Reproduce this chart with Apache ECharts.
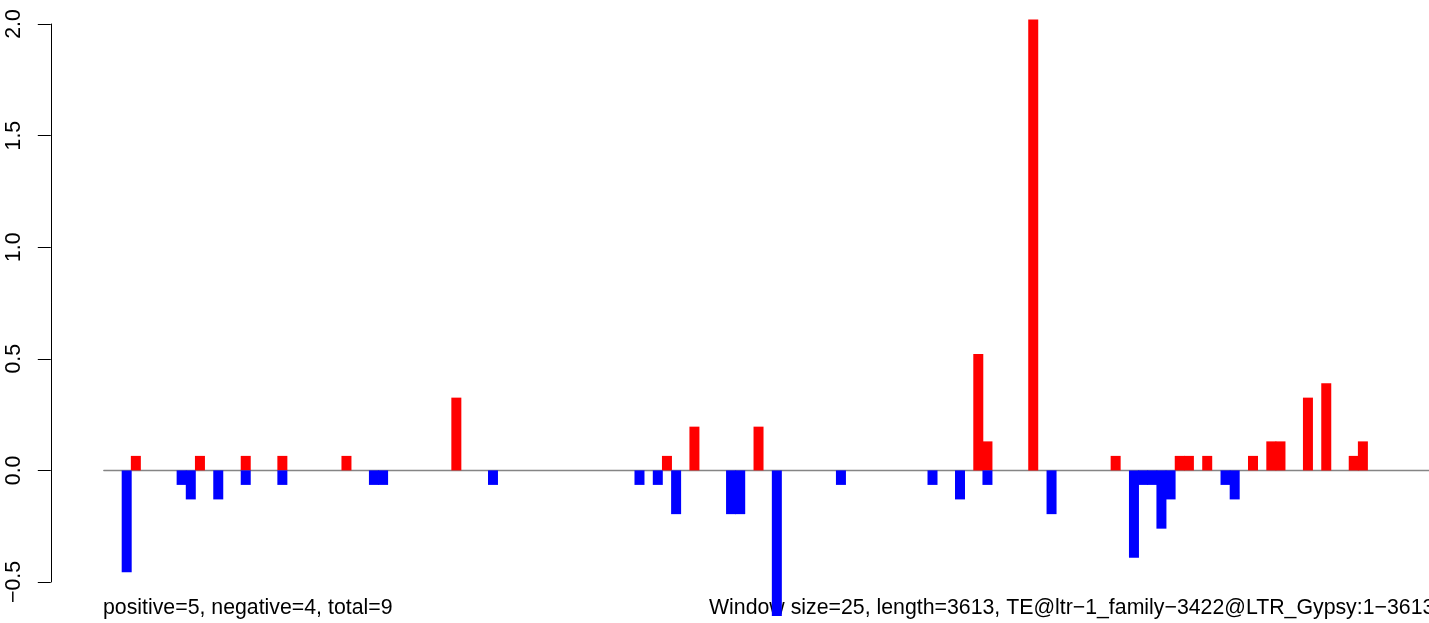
<!DOCTYPE html>
<html>
<head>
<meta charset="utf-8">
<script src="https://cdn.jsdelivr.net/npm/echarts@6/dist/echarts.min.js"></script>
<style>
html,body{margin:0;padding:0;background:#ffffff;}
#chart{width:1429px;height:623px;}
</style>
</head>
<body>
<div id="chart"></div>
<script>
// ---- data ----
const WINDOW_SIZE = 25;
const SEQ_LENGTH = 3613;
const yTicks = [-0.5, 0.0, 0.5, 1.0, 1.5, 2.0];

// window index (0-based, each window = WINDOW_SIZE bp) and value
const posWindows = [3, 10, 15, 19, 26, 38, 61, 64, 71, 95, 96, 101, 110, 117, 118, 120, 125, 127, 128, 131, 133, 136, 137];
const posValues  = [0.065, 0.065, 0.065, 0.065, 0.065, 0.326, 0.065, 0.196, 0.196, 0.522, 0.13, 2.02, 0.065, 0.065, 0.065, 0.065, 0.065, 0.13, 0.13, 0.326, 0.391, 0.065, 0.13];

const negWindows = [2, 8, 9, 12, 15, 19, 29, 30, 42, 58, 60, 62, 68, 69, 73, 80, 90, 93, 96, 103, 112, 113, 114, 115, 116, 122, 123];
const negValues  = [-0.456, -0.065, -0.13, -0.13, -0.065, -0.065, -0.065, -0.065, -0.065, -0.065, -0.065, -0.196, -0.196, -0.196, -0.652, -0.065, -0.065, -0.13, -0.065, -0.196, -0.391, -0.065, -0.065, -0.261, -0.13, -0.065, -0.13];

const leftNote  = 'positive=5, negative=4, total=9';
const rightNote = 'Window size=25, length=3613, TE@ltr\u22121_family\u22123422@LTR_Gypsy:1\u22123613';

// ---- build ----
const FONT = '"Liberation Sans", Arial, Helvetica, sans-serif';
const FS = 21.3;
const toData = (ws, vs) => ws.map((w, i) => [w * WINDOW_SIZE + WINDOW_SIZE / 2, vs[i]]);

const chart = echarts.init(document.getElementById('chart'), null, {renderer: 'canvas'});
chart.setOption({
  animation: false,
  backgroundColor: '#ffffff',
  grid: {left: 103.8, right: 0, top: 24, bottom: 41, containLabel: false},
  xAxis: {
    type: 'value',
    min: 0,
    max: 3618,
    axisLine: {show: true, onZero: true, lineStyle: {color: '#858585', width: 1.3}},
    axisTick: {show: false},
    axisLabel: {show: false},
    splitLine: {show: false}
  },
  yAxis: {
    type: 'value',
    min: yTicks[0],
    max: yTicks[yTicks.length - 1],
    interval: 0.5,
    offset: 53,
    axisLine: {show: true, onZero: false, lineStyle: {color: '#000000', width: 1}},
    axisTick: {show: true, inside: false, length: 13, lineStyle: {color: '#000000', width: 1}},
    axisLabel: {
      show: true,
      rotate: 90,
      margin: 26,
      color: '#000000',
      fontFamily: FONT,
      fontSize: FS,
      formatter: v => v.toFixed(1).replace('-', '\u2212')
    },
    splitLine: {show: false}
  },
  series: [
    {
      type: 'bar',
      name: 'positive',
      data: toData(posWindows, posValues),
      barWidth: 10,
      barGap: '-100%',
      clip: false,
      itemStyle: {color: '#ff0000'},
      z: 3
    },
    {
      type: 'bar',
      name: 'negative',
      data: toData(negWindows, negValues),
      barWidth: 10,
      barGap: '-100%',
      clip: false,
      itemStyle: {color: '#0000ff'},
      z: 3
    }
  ],
  graphic: [
    {
      type: 'text',
      left: 103,
      top: 598,
      style: {text: leftNote, font: FS + 'px ' + FONT, fill: '#000000'}
    },
    {
      type: 'text',
      left: 709,
      top: 598,
      style: {text: rightNote, font: FS + 'px ' + FONT, fill: '#000000'}
    }
  ]
});
</script>
</body>
</html>
